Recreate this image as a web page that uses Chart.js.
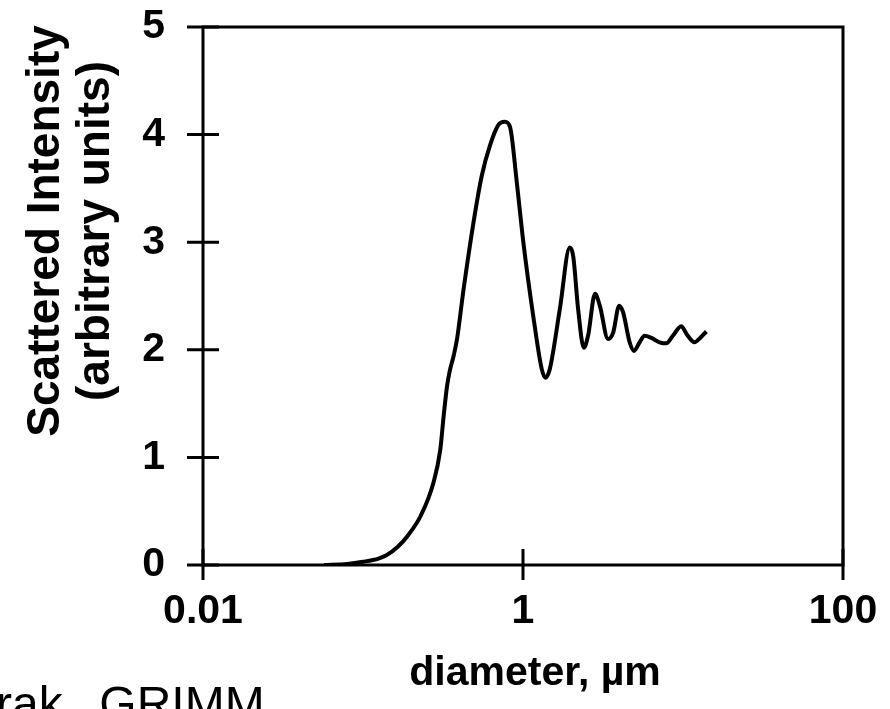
<!DOCTYPE html>
<html>
<head>
<meta charset="utf-8">
<script src="https://cdn.jsdelivr.net/npm/chart.js@4/dist/chart.umd.min.js"></script>
<style>
  body { margin:0; background:#fff; }
  #wrap { position:relative; width:890px; height:709px; overflow:hidden; }
  #note { position:absolute; left:-4px; top:680px; font:48px "Liberation Sans", Arial, sans-serif; line-height:48px; word-spacing:10px; color:#000; white-space:nowrap; }
</style>
</head>
<body>
<div id="wrap">
  <canvas id="c" width="890" height="709"></canvas>
  <div id="note">rak, GRIMM</div>
</div>
<script>
// diameter (µm) and scattered intensity
const diameter = [0.057,0.08,0.1,0.125,0.14,0.165,0.19,0.23,0.275,0.304,0.319,0.335,0.348,0.368,0.387,0.425,0.49,0.553,0.622,0.702,0.77,0.83,0.914,1.005,1.16,1.31,1.38,1.47,1.7,1.96,2.06,2.21,2.4,2.55,2.82,3.02,3.4,3.66,3.99,4.22,4.64,4.94,5.36,5.76,6.34,7.14,7.86,8.64,9.75,10.6,11.8,12.8,14.0];
const intensity = [0,0.01,0.03,0.06,0.09,0.17,0.27,0.46,0.76,1.07,1.38,1.66,1.8,1.94,2.1,2.56,3.18,3.62,3.9,4.09,4.12,4.07,3.56,3.0,2.31,1.82,1.74,1.82,2.38,2.95,2.87,2.38,2.02,2.13,2.52,2.41,2.1,2.16,2.41,2.35,2.07,1.99,2.07,2.13,2.11,2.07,2.06,2.13,2.22,2.14,2.07,2.11,2.17];
const xTicks = [0.01, 1, 100];
const yTicks = [0, 1, 2, 3, 4, 5];
const yTitle = ['Scattered Intensity', '(arbitrary units)'];
const xTitle = 'diameter, µm';

const FONT = '"Liberation Sans", Arial, sans-serif';

// axis box with ticks crossing the lines, like the Excel original
const frame = {
  id:'frame',
  afterDraw(chart){
    const {ctx, chartArea:a, scales:{x, y}} = chart;
    ctx.save();
    ctx.strokeStyle = '#000'; ctx.lineWidth = 3; ctx.lineCap = 'butt';
    ctx.strokeRect(a.left, a.top, a.right - a.left, a.bottom - a.top);
    ctx.beginPath();
    yTicks.forEach(v => { const p = y.getPixelForValue(v); ctx.moveTo(a.left - 16, p); ctx.lineTo(a.left + 16, p); });
    xTicks.forEach(v => { const p = x.getPixelForValue(v); ctx.moveTo(p, a.bottom - 16); ctx.lineTo(p, a.bottom + 15); });
    ctx.stroke();
    ctx.fillStyle = '#000';
    // x title, a little right of the "1" tick
    ctx.font = 'bold 41px ' + FONT;
    ctx.textAlign = 'center'; ctx.textBaseline = 'alphabetic';
    ctx.fillText(xTitle, x.getPixelForValue(1) + 12, 685);
    // y title, two centred lines (sits higher than the plot centre)
    ctx.font = 'bold 46px ' + FONT;
    ctx.textBaseline = 'middle';
    ctx.translate(46, 231);
    ctx.rotate(-Math.PI / 2);
    yTitle.forEach((t, i) => ctx.fillText(t, 0, i * 50));
    ctx.restore();
  }
};

new Chart(document.getElementById('c'), {
  type:'line',
  data:{ datasets:[{
    data: diameter.map((d, i) => ({x:d, y:intensity[i]})),
    borderColor:'#000', borderWidth:4, pointRadius:0,
    cubicInterpolationMode:'monotone', fill:false
  }]},
  options:{
    responsive:false, animation:false,
    layout:{ padding:{ left:0, right:47, top:27, bottom:0 } },
    plugins:{ legend:{display:false}, tooltip:{enabled:false} },
    scales:{
      x:{
        type:'logarithmic', min:0.01, max:100,
        grid:{display:false, drawTicks:false}, border:{display:false},
        afterBuildTicks: s => { s.ticks = xTicks.map(v => ({value:v})); },
        afterFit: s => { s.height = 144; s.paddingLeft = 0; s.paddingRight = 0; },
        ticks:{ color:'#000', padding:22, maxRotation:0, autoSkip:false,
          font:{family:FONT, size:41, weight:'bold'},
          callback: v => String(v) },
        title:{ display:false }
      },
      y:{
        min:0, max:5,
        grid:{display:false, drawTicks:false}, border:{display:false},
        afterBuildTicks: s => { s.ticks = yTicks.map(v => ({value:v})); },
        afterFit: s => { s.width = 203; s.paddingTop = 0; s.paddingBottom = 0; },
        ticks:{ color:'#000', padding:38,
          font:{family:FONT, size:41, weight:'bold'} }
      }
    }
  },
  plugins:[frame]
});
</script>
</body>
</html>
